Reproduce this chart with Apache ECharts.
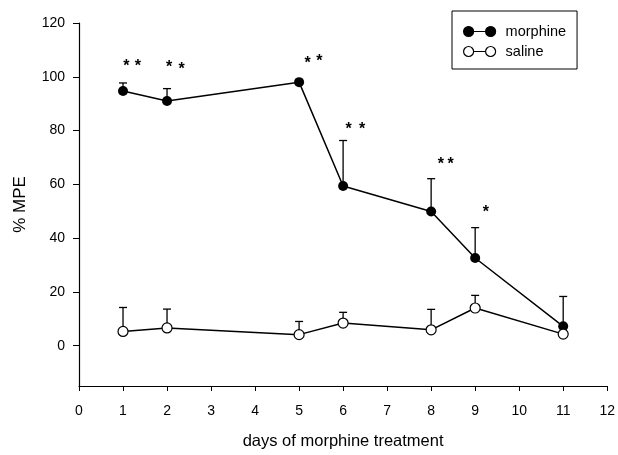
<!DOCTYPE html>
<html>
<head>
<meta charset="utf-8">
<script src="https://cdn.jsdelivr.net/npm/echarts@6/dist/echarts.min.js"></script>
<style>
html,body{margin:0;padding:0;background:#fff;}
#chart{width:618px;height:455px;}
</style>
</head>
<body>
<div id="chart"></div>
<script>
// ---- data ----
const days = [1, 2, 5, 6, 8, 9, 11];
const morphineMean = [94.7, 91.0, 98.0, 59.4, 49.9, 32.6, 7.2];
const morphineErr  = [3.0, 4.6, 0, 16.9, 12.2, 11.3, 11.1];
const salineMean   = [5.3, 6.6, 4.1, 8.4, 5.9, 14.0, 4.3];
const salineErr    = [8.9, 7.0, 4.9, 4.0, 7.6, 4.7, 0];
const xTicks = [0,1,2,3,4,5,6,7,8,9,10,11,12];
const yTicks = [0, 20, 40, 60, 80, 100, 120];
// significance asterisks: position (day, %MPE)
const starDays   = [1.074, 1.338, 2.046, 2.333, 5.196, 5.460, 6.123, 6.432, 8.218, 8.444, 9.243];
const starValues = [105.2, 105.2, 104.8, 103.8, 106.2, 106.9, 81.7, 81.7, 68.8, 68.8, 50.9];

const FONT = '"Liberation Sans", Arial, Helvetica, sans-serif';

const morphineData = days.map((d, i) => [d, morphineMean[i]]);
const salineData = days.map((d, i) => [d, salineMean[i]]);
const errData = days.map((d, i) => [d, morphineMean[i], morphineErr[i]])
  .concat(days.map((d, i) => [d, salineMean[i], salineErr[i]]));
const starData = starDays.map((d, i) => [d, starValues[i]]);

function renderErr(params, api) {
  const x = api.value(0), y = api.value(1), e = api.value(2);
  if (!e) return null;
  const p0 = api.coord([x, y]);
  const p1 = api.coord([x, y + e]);
  const st = { stroke: '#000', lineWidth: 1.3 };
  return {
    type: 'group',
    children: [
      { type: 'line', shape: { x1: p0[0], y1: p0[1], x2: p1[0], y2: p1[1] }, style: st },
      { type: 'line', shape: { x1: p1[0] - 4, y1: p1[1], x2: p1[0] + 4, y2: p1[1] }, style: st }
    ]
  };
}
function renderStar(params, api) {
  const p = api.coord([api.value(0), api.value(1)]);
  return {
    type: 'text',
    x: p[0], y: p[1] + 3.5,
    style: { text: '*', font: 'bold 16px ' + FONT, fill: '#000', align: 'center', verticalAlign: 'middle' }
  };
}

const iconPath = 'path://M0,5 A5,5 0 1 1 10,5 A5,5 0 1 1 0,5 Z M10,5 L22,5 M22,5 A5,5 0 1 1 32,5 A5,5 0 1 1 22,5 Z';

const chart = echarts.init(document.getElementById('chart'), null, { renderer: 'canvas' });
chart.setOption({
  animation: false,
  backgroundColor: '#fff',
  textStyle: { fontFamily: FONT, color: '#000' },
  grid: { left: 79, right: 9, top: 23, bottom: 68, containLabel: false },
  legend: {
    orient: 'vertical',
    left: 452, top: 11,
    padding: [13, 11, 10, 11],
    itemGap: 5,
    itemWidth: 32, itemHeight: 10,
    borderColor: '#000', borderWidth: 1,
    textStyle: { fontSize: 14.5, color: '#000', fontFamily: FONT, padding: [0, 0, 0, 5] },
    selectedMode: false,
    data: [
      { name: 'morphine', icon: iconPath, itemStyle: { color: '#000', borderColor: '#000', borderWidth: 1.2 } },
      { name: 'saline', icon: iconPath, itemStyle: { color: '#fff', borderColor: '#000', borderWidth: 1.2 } }
    ]
  },
  xAxis: {
    type: 'value', min: 0, max: 12, interval: 1,
    name: 'days of morphine treatment', nameLocation: 'middle', nameGap: 47,
    nameTextStyle: { fontSize: 16.5, color: '#000', fontFamily: FONT },
    axisLine: { onZero: false, lineStyle: { color: '#000', width: 1.2 } },
    axisTick: { show: true, inside: false, length: 5, lineStyle: { color: '#000' }, customValues: xTicks },
    axisLabel: { fontSize: 14, color: '#000', margin: 18, customValues: xTicks },
    splitLine: { show: false }
  },
  yAxis: {
    type: 'value', min: -15, max: 120,
    name: '% MPE', nameLocation: 'middle', nameGap: 50,
    nameTextStyle: { fontSize: 17, color: '#000', fontFamily: FONT },
    axisLine: { show: true, onZero: false, lineStyle: { color: '#000', width: 1.2 } },
    axisTick: { show: true, inside: false, length: 6, lineStyle: { color: '#000' }, customValues: yTicks },
    axisLabel: { fontSize: 14, color: '#000', margin: 14, customValues: yTicks },
    splitLine: { show: false }
  },
  series: [
    {
      type: 'custom', name: 'err', renderItem: renderErr, data: errData, z: 1,
      encode: { x: 0, y: [1, 2] }, silent: true
    },
    {
      type: 'custom', name: 'stars', renderItem: renderStar, data: starData, z: 1,
      encode: { x: 0, y: 1 }, silent: true
    },
    {
      type: 'line', name: 'morphine', data: morphineData, z: 3,
      symbol: 'circle', symbolSize: 10, showAllSymbol: true,
      itemStyle: { color: '#000', borderColor: '#000', borderWidth: 0 },
      lineStyle: { color: '#000', width: 1.5 }
    },
    {
      type: 'line', name: 'saline', data: salineData, z: 4,
      symbol: 'circle', symbolSize: 10, showAllSymbol: true,
      itemStyle: { color: '#fff', borderColor: '#000', borderWidth: 1.2 },
      lineStyle: { color: '#000', width: 1.5 }
    }
  ]
});
</script>
</body>
</html>
